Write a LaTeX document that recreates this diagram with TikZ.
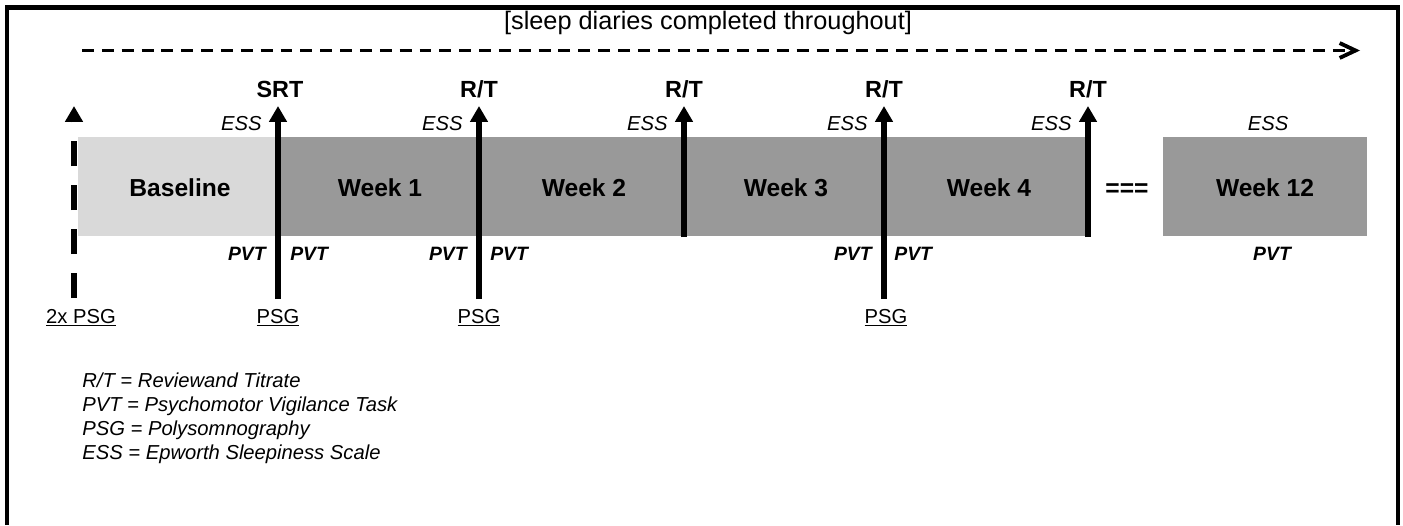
\documentclass[tikz,border=0pt]{standalone}
\usepackage{fontspec}
\setmainfont{Liberation Sans}
\usetikzlibrary{arrows.meta}
\definecolor{baseGray}{RGB}{217,217,217}
\definecolor{weekGray}{RGB}{153,153,153}

\begin{document}
\begin{tikzpicture}[x=0.02cm,y=-0.02cm,
    visit/.style={line width=3.4pt,-{Triangle[width=9.7pt,length=9pt]}},
    weeklbl/.style={font=\fontsize{14}{16}\selectfont\bfseries,anchor=base,inner sep=0pt},
    toplbl/.style={font=\fontsize{13.3}{15}\selectfont\bfseries,anchor=base,inner sep=0pt},
    esslbl/.style={font=\fontsize{11.5}{13}\selectfont\itshape,inner sep=0pt},
    pvtlbl/.style={font=\fontsize{11}{13}\selectfont\bfseries\itshape,inner sep=0pt},
    psglbl/.style={font=\fontsize{11.5}{13}\selectfont,anchor=base,inner sep=0pt},
    keylbl/.style={font=\fontsize{11.5}{13}\selectfont\itshape,anchor=base west,inner sep=0pt}]
        \useasboundingbox (0,0) rectangle (1403,525);
        \draw[line width=2.5pt] (7,525)--(7,7.5)--(1398,7.5)--(1398,525);

        \node[font=\fontsize{14.4}{16}\selectfont,anchor=base,inner sep=0pt] (diary) at (708,29) {[sleep diaries completed throughout]};
        \coordinate (dstart) at (82,50.5);
        \coordinate (dend) at (1360,50.5);
        \draw[line width=2.2pt,dash pattern=on 6.8pt off 4.5pt,-{Straight Barb[width=8.5pt,length=9pt]}] (dstart)--(dend);

        \fill[baseGray] (78,137) rectangle (278,236);
        \fill[weekGray] (278,137) rectangle (1090,236);
        \fill[weekGray] (1163,137) rectangle (1367,236);

        \node[weeklbl] (base) at (180,196) {Baseline};
        \node[weeklbl] (wk1) at (380,196) {Week 1};
        \node[weeklbl] (wk2) at (584,196) {Week 2};
        \node[weeklbl] (wk3) at (786,196) {Week 3};
        \node[weeklbl] (wk4) at (989,196) {Week 4};
        \node[weeklbl] (skip) at (1127,196) {===};
        \node[weeklbl] (wk12) at (1265,196) {Week 12};

        \coordinate (pre0) at (74,298);
        \coordinate (pre1) at (74,106);
        \draw[line width=3.6pt,dash pattern=on 14.2pt off 10.8pt,-{Triangle[width=9.7pt,length=9pt]}] (pre0)--(pre1);

        \coordinate (b1) at (278,299);
        \coordinate (t1) at (278,106);
        \coordinate (b2) at (479,299);
        \coordinate (t2) at (479,106);
        \coordinate (b3) at (684,237);
        \coordinate (t3) at (684,106);
        \coordinate (b4) at (884,299);
        \coordinate (t4) at (884,106);
        \coordinate (b5) at (1088,237);
        \coordinate (t5) at (1088,106);
        \draw[visit] (b1)--(t1);
        \draw[visit] (b2)--(t2);
        \draw[visit] (b3)--(t3);
        \draw[visit] (b4)--(t4);
        \draw[visit] (b5)--(t5);

        \node[toplbl] (srt) at (280,97) {SRT};
        \node[toplbl] (rt2) at (479,97) {R/T};
        \node[toplbl] (rt3) at (684,97) {R/T};
        \node[toplbl] (rt4) at (884,97) {R/T};
        \node[toplbl] (rt5) at (1088,97) {R/T};

        \node[esslbl,anchor=base east] (ess1) at (262,130) {ESS};
        \node[esslbl,anchor=base east] (ess2) at (463,130) {ESS};
        \node[esslbl,anchor=base east] (ess3) at (668,130) {ESS};
        \node[esslbl,anchor=base east] (ess4) at (868,130) {ESS};
        \node[esslbl,anchor=base east] (ess5) at (1072,130) {ESS};
        \node[esslbl,anchor=base] (ess12) at (1268,130) {ESS};

        \node[pvtlbl,anchor=base east] (pvt1a) at (266,260) {PVT};
        \node[pvtlbl,anchor=base west] (pvt1b) at (290,260) {PVT};
        \node[pvtlbl,anchor=base east] (pvt2a) at (467,260) {PVT};
        \node[pvtlbl,anchor=base west] (pvt2b) at (490,260) {PVT};
        \node[pvtlbl,anchor=base east] (pvt4a) at (872,260) {PVT};
        \node[pvtlbl,anchor=base west] (pvt4b) at (894,260) {PVT};
        \node[pvtlbl,anchor=base] (pvt12) at (1272,260) {PVT};

        \node[psglbl] (psg0) at (81,323) {\underline{2x PSG}};
        \node[psglbl] (psg1) at (278,323) {\underline{PSG}};
        \node[psglbl] (psg2) at (479,323) {\underline{PSG}};
        \node[psglbl] (psg4) at (886,323) {\underline{PSG}};

        \node[keylbl] (keyrt) at (82,387) {R/T = Reviewand Titrate};
        \node[keylbl] (keypvt) at (82,411) {PVT = Psychomotor Vigilance Task};
        \node[keylbl] (keypsg) at (82,435) {PSG = Polysomnography};
        \node[keylbl] (keyess) at (82,459) {ESS = Epworth Sleepiness Scale};
\end{tikzpicture}
\end{document}
